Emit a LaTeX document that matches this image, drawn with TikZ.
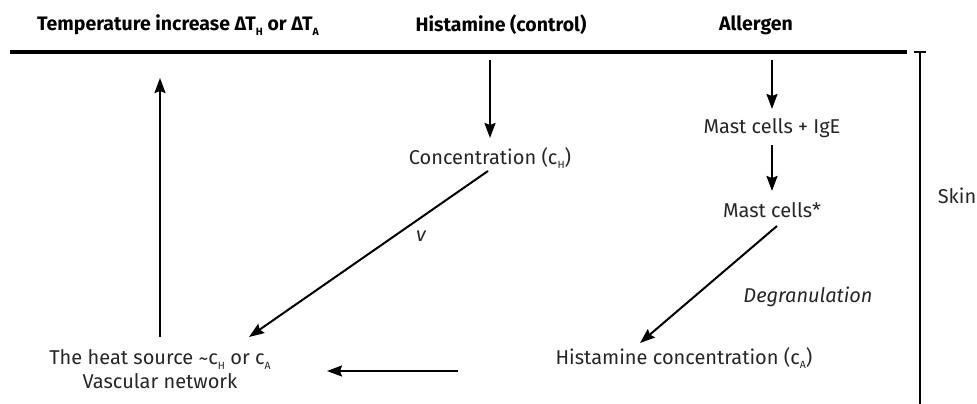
\documentclass[tikz,border=0pt]{standalone}
\usepackage{fontspec}
\setmainfont{Fira Sans}
\usetikzlibrary{arrows.meta}
\newcommand{\sbs}[1]{\raisebox{-0.45ex}{\fontsize{10.5}{10.5}\selectfont #1}}
\begin{document}
\begin{tikzpicture}[x=1pt,y=-1pt,
  lbl/.style={inner sep=0pt,font=\fontsize{20}{24}\selectfont,text=black!85},
  ilbl/.style={inner sep=0pt,font=\fontsize{20}{24}\selectfont\itshape,text=black!85},
  hdr/.style={inner sep=0pt,font=\fontsize{19.5}{23}\selectfont\bfseries},
  arr/.style={line width=2pt,-{Stealth[length=15pt,width=11pt,inset=2pt]}},
  plain/.style={line width=2pt}]
\useasboundingbox (0,0) rectangle (977,404);
% headers
\node[hdr] (hT) at (178,25) {Temperature increase ΔT\sbs{H} or ΔT\sbs{A}};
\node[hdr] (hH) at (501,25) {Histamine (control)};
\node[hdr] (hA) at (756,25) {Allergen};
% top line and skin bracket
\coordinate (tl) at (10,52);
\coordinate (tr) at (907,52);
\draw[line width=4.5pt] (tl) -- (tr);
\coordinate (sk1) at (920,52);
\coordinate (sk2) at (920,404);
\coordinate (skl) at (914,52);
\coordinate (skr) at (926,52);
\draw[plain] (sk1) -- (sk2);
\draw[plain] (skl) -- (skr);
\node[lbl] (skin) at (957,196) {Skin};
% nodes
\node[lbl] (conc) at (490,158) {Concentration (c\sbs{H})};
\node[lbl] (mci) at (772,128) {Mast cells + IgE};
\node[lbl] (mcs) at (772,210) {Mast cells*};
\node[lbl] (hcon) at (684,358) {Histamine concentration (c\sbs{A})};
\node[lbl,align=center] (heat) at (160,369) {The heat source \raisebox{-0.12ex}{\textasciitilde}c\sbs{H} or c\sbs{A}\\Vascular network};
% coordinates for connector ends
\coordinate (h0) at (490,60);
\coordinate (h1) at (490,138);
\coordinate (a0) at (772,60);
\coordinate (a1) at (772,109);
\coordinate (m0) at (772,145);
\coordinate (m1) at (772,191);
\coordinate (c0) at (488,171);
\coordinate (c1) at (249,337);
\coordinate (d0) at (777,226);
\coordinate (d1) at (640,343);
\coordinate (x0) at (458,371);
\coordinate (x1) at (327,371);
\coordinate (u0) at (160,337);
\coordinate (u1) at (160,78);
% connectors
\draw[arr] (h0) -- (h1);
\draw[arr] (a0) -- (a1);
\draw[arr] (m0) -- (m1);
\draw[arr] (c0) -- (c1);
\node[ilbl] (vl) at (421,236) {v};
\draw[arr] (d0) -- (d1);
\node[ilbl] (deg) at (808,297) {Degranulation};
\draw[arr] (x0) -- (x1);
\draw[arr] (u0) -- (u1);
\end{tikzpicture}
\end{document}
